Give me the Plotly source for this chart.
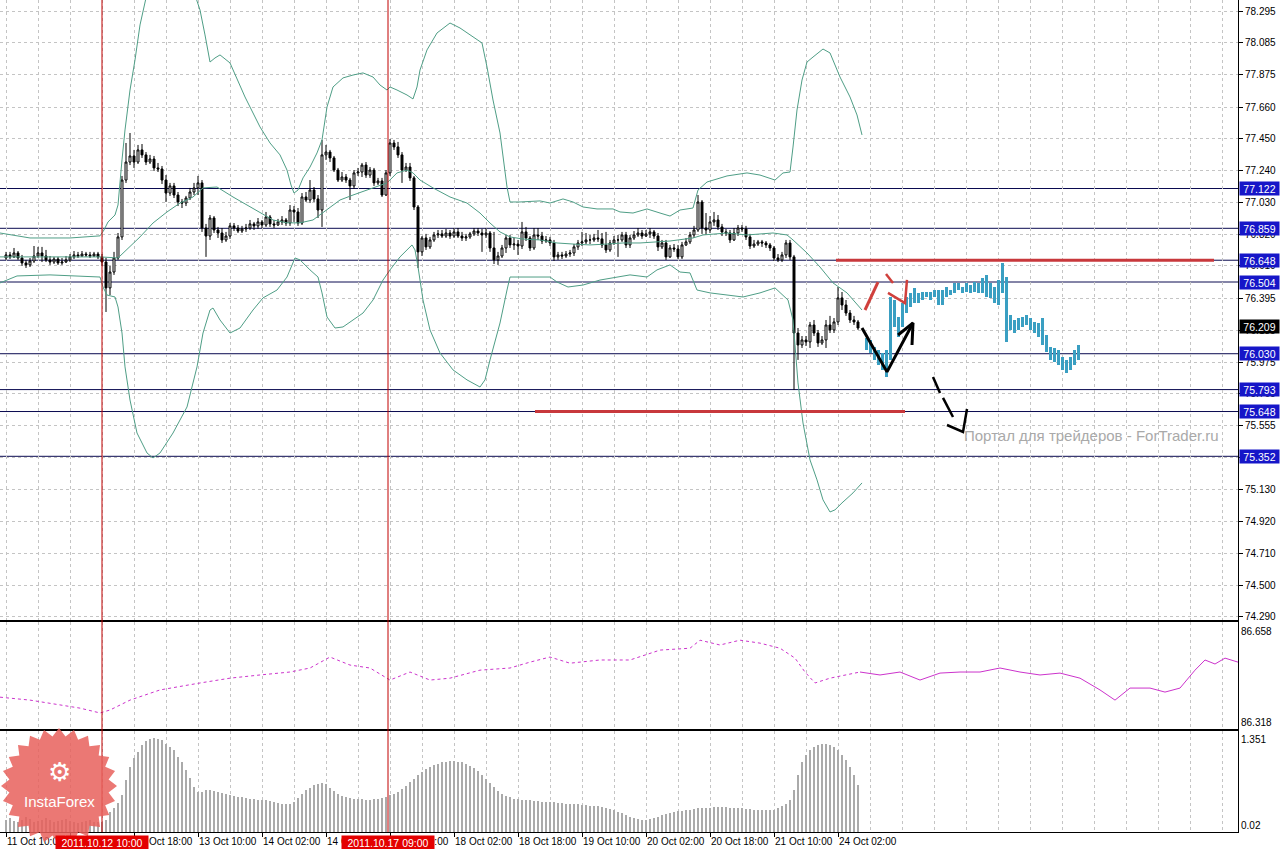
import math
import plotly.graph_objects as go
from plotly.subplots import make_subplots

# ---------------- time axis (H1 bars, index 0 = 11 Oct 10:00) ----------------
time_labels = ["11 Oct 10:00", "12 Oct 02:00", "12 Oct 18:00", "13 Oct 10:00", "14 Oct 02:00",
               "14 Oct 18:00", "17 Oct 10:00", "18 Oct 02:00", "18 Oct 18:00", "19 Oct 10:00",
               "20 Oct 02:00", "20 Oct 18:00", "21 Oct 10:00", "24 Oct 02:00"]
label_bars = [0, 16, 32, 48, 64, 80, 96, 112, 128, 144, 160, 176, 192, 208]

price_ticks = [78.295, 78.085, 77.875, 77.660, 77.450, 77.240, 77.030, 76.820, 76.610, 76.395,
               76.185, 75.975, 75.765, 75.555, 75.345, 75.130, 74.920, 74.710, 74.500, 74.290]

# ---------------- USDJPY-like H1 candles ----------------
first_open = 76.663
closes = [
    76.683, 76.670, 76.696, 76.663, 76.630, 76.617, 76.643, 76.676, 76.696, 76.676, 76.650, 76.636,
    76.656, 76.630, 76.636, 76.650, 76.670, 76.683, 76.676, 76.689, 76.683, 76.676, 76.689, 76.670,
    76.636, 76.465, 76.570, 76.663, 76.802, 77.178, 77.297, 77.337, 77.297, 77.377, 77.344, 77.297,
    77.317, 77.258, 77.251, 77.178, 77.092, 77.139, 77.079, 77.033, 77.026, 77.059, 77.099, 77.126, 77.159,
    76.861, 76.808, 76.927, 76.848, 76.828, 76.782, 76.808, 76.875, 76.861, 76.841, 76.855, 76.861,
    76.888, 76.875, 76.901, 76.881, 76.934, 76.888, 76.881, 76.901, 76.914, 76.894, 76.980, 76.967,
    76.894, 77.066, 77.046, 77.112, 77.053, 76.980,
    77.344, 77.363, 77.324, 77.244, 77.178, 77.198, 77.178, 77.139, 77.225, 77.231, 77.277, 77.211,
    77.244, 77.159, 77.172, 77.079, 77.225, 77.423, 77.397, 77.344, 77.244, 77.264, 77.192, 77.000,
    76.703, 76.795, 76.736, 76.782, 76.815, 76.822, 76.808,
    76.828, 76.808, 76.835, 76.808, 76.795, 76.802, 76.822, 76.841, 76.828, 76.815, 76.828, 76.729,
    76.650, 76.676, 76.729, 76.795, 76.749, 76.755, 76.742, 76.835, 76.795, 76.729, 76.815, 76.808,
    76.775, 76.782, 76.762, 76.670, 76.683, 76.676, 76.689, 76.696,
    76.736, 76.762, 76.769, 76.782, 76.782, 76.795, 76.789, 76.749, 76.716, 76.762, 76.782, 76.782,
    76.815, 76.749, 76.795, 76.815, 76.828, 76.808, 76.822, 76.835, 76.808, 76.736, 76.762, 76.670,
    76.729, 76.722, 76.670, 76.749, 76.769, 76.815, 76.848, 77.033, 76.861, 76.848, 76.901, 76.914,
    76.868, 76.835, 76.828, 76.782, 76.828, 76.861, 76.855, 76.802, 76.742, 76.755, 76.769, 76.762,
    76.749, 76.729, 76.663, 76.650, 76.683, 76.762, 76.670,
    76.167, 76.088, 76.121, 76.108, 76.220, 76.167, 76.101, 76.121, 76.220, 76.187, 76.240, 76.399,
    76.352, 76.299, 76.253, 76.240, 76.200]
highs = [
    76.703, 76.703, 76.729, 76.709, 76.683, 76.650, 76.663, 76.742, 76.736, 76.736, 76.716, 76.676,
    76.670, 76.670, 76.663, 76.676, 76.689, 76.709, 76.703, 76.709, 76.703, 76.703, 76.703, 76.703,
    76.689, 76.663, 76.610, 76.703, 76.828, 77.205, 77.423, 77.489, 77.377, 77.410, 77.416, 77.363,
    77.344, 77.337, 77.291, 77.271, 77.211, 77.159, 77.159, 77.099, 77.053, 77.073, 77.126, 77.159, 77.205,
    77.178, 76.888, 76.947, 76.940, 76.868, 76.861, 76.835, 76.894, 76.894, 76.881, 76.875, 76.888,
    76.914, 76.901, 76.927, 76.914, 76.967, 76.947, 76.914, 76.921, 76.940, 76.927, 77.013, 77.006,
    76.993, 77.092, 77.099, 77.178, 77.132, 77.079,
    77.443, 77.410, 77.377, 77.337, 77.258, 77.231, 77.218, 77.192, 77.244, 77.258, 77.291, 77.297,
    77.264, 77.258, 77.192, 77.192, 77.244, 77.449, 77.443, 77.430, 77.363, 77.291, 77.291, 77.205,
    77.013, 76.808, 76.822, 76.802, 76.835, 76.848, 76.848,
    76.855, 76.848, 76.861, 76.861, 76.835, 76.822, 76.835, 76.861, 76.861, 76.855, 76.861, 76.841,
    76.835, 76.703, 76.749, 76.815, 76.815, 76.795, 76.782, 76.901, 76.868, 76.808, 76.861, 76.861,
    76.835, 76.808, 76.802, 76.782, 76.703, 76.703, 76.709, 76.716,
    76.755, 76.782, 76.835, 76.828, 76.815, 76.822, 76.848, 76.828, 76.835, 76.782, 76.808, 76.815,
    76.835, 76.835, 76.815, 76.841, 76.861, 76.848, 76.848, 76.861, 76.848, 76.828, 76.782, 76.782,
    76.749, 76.755, 76.749, 76.769, 76.795, 76.835, 76.875, 77.079, 77.046, 76.960, 76.940, 76.967,
    76.947, 76.888, 76.855, 76.848, 76.861, 76.881, 76.881, 76.875, 76.822, 76.782, 76.782, 76.782,
    76.775, 76.762, 76.742, 76.689, 76.703, 76.782, 76.782,
    76.683, 76.200, 76.147, 76.147, 76.240, 76.253, 76.187, 76.147, 76.253, 76.280, 76.266, 76.471,
    76.438, 76.385, 76.319, 76.280, 76.253]
lows = [
    76.650, 76.656, 76.663, 76.650, 76.610, 76.597, 76.603, 76.630, 76.663, 76.636, 76.636, 76.617,
    76.623, 76.617, 76.617, 76.630, 76.636, 76.656, 76.663, 76.670, 76.670, 76.663, 76.670, 76.656,
    76.610, 76.306, 76.418, 76.551, 76.650, 76.782, 77.159, 77.277, 77.258, 77.284, 77.324, 77.277,
    77.284, 77.238, 77.231, 77.152, 77.033, 77.073, 77.059, 77.006, 76.993, 77.006, 77.046, 77.079, 77.079,
    76.835, 76.670, 76.782, 76.828, 76.795, 76.762, 76.769, 76.789, 76.841, 76.828, 76.828, 76.835,
    76.848, 76.848, 76.855, 76.861, 76.868, 76.868, 76.861, 76.875, 76.881, 76.875, 76.875, 76.901,
    76.875, 76.881, 77.033, 77.026, 77.033, 76.927,
    76.868, 77.311, 77.297, 77.231, 77.165, 77.165, 77.159, 77.046, 77.119, 77.205, 77.198, 77.192,
    77.192, 77.139, 77.145, 77.066, 77.073, 77.205, 77.377, 77.324, 77.159, 77.231, 77.172, 76.980,
    76.597, 76.676, 76.716, 76.722, 76.769, 76.795, 76.795,
    76.795, 76.789, 76.795, 76.795, 76.775, 76.775, 76.789, 76.808, 76.808, 76.703, 76.795, 76.703,
    76.623, 76.617, 76.663, 76.696, 76.729, 76.716, 76.683, 76.722, 76.775, 76.709, 76.716, 76.782,
    76.755, 76.762, 76.742, 76.643, 76.650, 76.656, 76.663, 76.670,
    76.676, 76.716, 76.742, 76.755, 76.755, 76.769, 76.769, 76.729, 76.696, 76.703, 76.749, 76.670,
    76.769, 76.729, 76.729, 76.782, 76.802, 76.789, 76.802, 76.795, 76.789, 76.709, 76.722, 76.650,
    76.663, 76.703, 76.656, 76.656, 76.742, 76.755, 76.795, 76.835, 76.822, 76.815, 76.828, 76.875,
    76.848, 76.808, 76.808, 76.762, 76.775, 76.808, 76.835, 76.782, 76.722, 76.729, 76.742, 76.736,
    76.729, 76.709, 76.643, 76.636, 76.636, 76.663, 76.650,
    75.791, 75.989, 76.068, 76.081, 76.068, 76.147, 76.075, 76.088, 76.068, 76.167, 76.167, 76.220,
    76.319, 76.280, 76.233, 76.220, 76.187]
bars = list(range(len(closes)))
opens = [first_open] + closes[:-1]

# ---------------- Bollinger bands ----------------
bb_up_x = [-1.5, 6, 16, 23.5, 24.5, 25.5, 27.25, 28, 29, 29.75, 31, 32.25, 33.5, 34.75, 36, 38.5,
           42.25, 46, 47.75, 48.5, 49.75, 51, 52.25, 53.5, 56, 59.75, 63.5, 66, 68.5, 70.25, 71.25,
           72, 73, 74.25, 76, 77.75, 79, 80.25, 81.75, 84.25, 86.75, 89.25, 91.75, 93.5, 95.25, 96,
           97.75, 100.25, 101.75, 102.75, 103.5, 105.25, 107.75, 111, 113.5, 116.75, 119, 120.25,
           121.75, 123.5, 125.25, 126, 128.5, 133.5, 136, 139.25, 141.75, 144.25, 147.75, 151.75,
           153.5, 156.75, 160.25, 163.5, 166, 168.5, 171.75, 173, 175.25, 180.25, 185.25, 188.5,
           192.25, 194.25, 196, 196.75, 197.75, 199, 200.25, 201.75, 204.25, 206, 208.5, 211, 212.75, 214]
bb_up = [76.828, 76.795, 76.795, 76.809, 76.848, 76.901, 76.947, 77.013, 77.311, 77.509, 77.773,
         77.972, 78.203, 78.348, 78.500, 78.665, 78.665, 78.500, 78.368, 78.302, 78.137, 77.958,
         77.985, 78.005, 77.952, 77.727, 77.529, 77.423, 77.344, 77.244, 77.145, 77.092, 77.112,
         77.192, 77.264, 77.357, 77.443, 77.661, 77.793, 77.853, 77.872, 77.886, 77.859, 77.806,
         77.773, 77.793, 77.773, 77.740, 77.714, 77.793, 77.905, 78.038, 78.150, 78.216, 78.183,
         78.123, 78.084, 77.925, 77.707, 77.489, 77.132, 77.033, 77.033, 77.040, 77.026, 77.053,
         77.033, 77.000, 76.987, 76.987, 76.967, 76.960, 76.987, 76.960, 76.940, 76.980, 76.993,
         77.112, 77.165, 77.205, 77.225, 77.211, 77.178, 77.225, 77.231, 77.396, 77.641, 77.839,
         77.958, 77.991, 78.044, 78.018, 77.859, 77.727, 77.608, 77.476]
bb_mid_x = [-1.5, 15.25, 23.5, 28, 31, 33.5, 36.75, 40.25, 43.5, 46.75, 49.25, 52.75, 56.75, 60.25,
            63.5, 66.75, 70.25, 73.5, 76.75, 78.5, 81, 83.5, 86.75, 90.25, 92.75, 95.25, 97.75,
            100.25, 101.75, 103.5, 106.75, 111, 115.25, 118.5, 121, 123.5, 126, 129.25, 133.5,
            137.75, 141.75, 146, 150.25, 154.25, 158.5, 161.75, 166, 171.75, 174.25, 180.25,
            185.25, 191.75, 195.25, 196.75, 200.25, 203.5, 206.75, 210.25, 214]
bb_mid = [76.670, 76.670, 76.670, 76.663, 76.736, 76.802, 76.894, 76.967, 77.026, 77.066, 77.126,
          77.132, 77.066, 77.013, 76.960, 76.914, 76.895, 76.895, 76.914, 76.947, 77.000, 77.046,
          77.079, 77.112, 77.132, 77.159, 77.225, 77.244, 77.225, 77.178, 77.126, 77.066, 77.026,
          76.960, 76.894, 76.835, 76.802, 76.788, 76.782, 76.762, 76.755, 76.749, 76.755, 76.762,
          76.762, 76.769, 76.775, 76.795, 76.815, 76.828, 76.815, 76.828, 76.815, 76.782, 76.696,
          76.603, 76.498, 76.432, 76.319]
bb_lo_x = [-1.5, 2.75, 11, 19.25, 23.5, 24.25, 25.25, 27.25, 28, 29, 29.75, 31, 32.75, 35.25, 36.75,
           38.5, 41.75, 45.25, 47.75, 49.25, 51, 51.75, 53.5, 56, 58.5, 61.75, 64.25, 67.75, 70.25,
           72.25, 73.5, 76, 78, 79, 80.25, 82.25, 84.25, 86.75, 89.25, 91.75, 94.25, 96, 98.5, 101.5,
           102.25, 103, 104.25, 106, 108.5, 111.75, 115.25, 118.5, 119.75, 121, 123.5, 125.25, 126,
           132.75, 136, 137.75, 140.5, 144.25, 148.5, 156, 160.25, 162.75, 166, 168.5, 171, 172.75,
           176, 184.25, 188.5, 192.25, 195.5, 196.75, 198, 199.25, 201, 202.75, 204.25, 206, 207.25,
           209, 211.75, 214]
bb_lo = [76.498, 76.544, 76.551, 76.544, 76.537, 76.471, 76.418, 76.405, 76.339, 76.167, 75.943,
         75.724, 75.506, 75.374, 75.341, 75.374, 75.506, 75.678, 75.943, 76.167, 76.319, 76.332,
         76.253, 76.167, 76.200, 76.319, 76.399, 76.451, 76.537, 76.663, 76.650, 76.584, 76.537,
         76.432, 76.273, 76.200, 76.207, 76.253, 76.299, 76.385, 76.517, 76.584, 76.670, 76.749,
         76.716, 76.604, 76.385, 76.187, 76.035, 75.923, 75.857, 75.810, 75.857, 75.989, 76.233,
         76.451, 76.537, 76.537, 76.537, 76.504, 76.471, 76.484, 76.517, 76.551, 76.537, 76.584,
         76.617, 76.570, 76.564, 76.451, 76.432, 76.405, 76.432, 76.465, 76.385, 76.253, 75.837,
         75.572, 75.328, 75.196, 75.064, 74.984, 74.998, 75.044, 75.110, 75.176]

# ---------------- hand-drawn forecast bars (cyan) ----------------
fc_bars = list(range(215, 269))
fc_high = [76.134, 76.121, 76.075, 76.055, 76.035, 76.055, 76.405, 76.385, 76.273, 76.365, 76.405,
           76.432, 76.465, 76.432, 76.438, 76.438, 76.438, 76.451, 76.451, 76.451, 76.471, 76.451,
           76.498, 76.498, 76.471, 76.498, 76.484, 76.504, 76.498, 76.531, 76.551, 76.498, 76.471,
           76.518, 76.630, 76.537, 76.286, 76.253, 76.266, 76.273, 76.286, 76.266, 76.240, 76.233,
           76.266, 76.154, 76.075, 76.068, 76.055, 76.009, 75.989, 76.009, 76.055, 76.088]
fc_low = [76.055, 76.035, 75.989, 75.956, 75.923, 75.876, 75.989, 76.207, 76.141, 76.207, 76.299,
          76.339, 76.365, 76.365, 76.385, 76.405, 76.385, 76.405, 76.352, 76.352, 76.405, 76.418,
          76.432, 76.451, 76.432, 76.438, 76.432, 76.438, 76.432, 76.432, 76.405, 76.399, 76.365,
          76.352, 76.432, 76.108, 76.187, 76.167, 76.187, 76.207, 76.220, 76.187, 76.167, 76.141,
          76.088, 76.042, 75.989, 75.976, 75.956, 75.923, 75.903, 75.923, 75.956, 75.989]

# ---------------- levels ----------------
level_prices = [77.122, 76.859, 76.648, 76.504, 76.030, 75.793, 75.648, 75.352]
current_price = 76.209
red_level_1 = dict(x=[207.5, 302.0], y=[76.648, 76.648])
red_level_2 = dict(x=[132.25, 224.75], y=[75.648, 75.648])
vline_bars = [24, 95.5]
vline_labels = ["2011.10.12 10:00", "2011.10.17 09:00"]

# hand-drawn arrows (bar index, price)
black_path_x = [214, 220.25, 226.75]
black_path_y = [76.200, 75.910, 76.233]
black_head_x = [223, 226.75, 226.5]
black_head_y = [76.154, 76.233, 76.088]
red_stroke_x = [214.75, 218]
red_stroke_y = [76.319, 76.504]
red_arrow_x = [220, 221.75, None, 220.5, 224.75, 225.25]
red_arrow_y = [76.557, 76.498, None, 76.432, 76.365, 76.518]
dash_arrow_x = [231.75, 233.5, None, 234.25, 236.75, None, 235.25, 239.25, 240.25]
dash_arrow_y = [75.876, 75.771, None, 75.738, 75.612, None, 75.559, 75.513, 75.665]

# ---------------- indicator window 1 (magenta) ----------------
ind_dot_x = [-1.5, 6, 13.5, 18.5, 23.5, 26, 31, 38.5, 48.5, 56, 63.5, 71, 76, 81, 86, 91, 96, 101,
             106, 111, 118.5, 126, 131, 136, 141, 148.5, 156, 163.5, 171, 173.5, 178.5, 183.5,
             188.5, 193.5, 197.25, 199.75, 202.25, 206, 213.5]
ind_dot = [86.411, 86.400, 86.382, 86.370, 86.352, 86.363, 86.400, 86.438, 86.464, 86.482, 86.494,
           86.505, 86.520, 86.561, 86.531, 86.520, 86.475, 86.505, 86.475, 86.482, 86.512, 86.520,
           86.542, 86.561, 86.538, 86.550, 86.550, 86.587, 86.594, 86.624, 86.606, 86.624, 86.613,
           86.594, 86.557, 86.505, 86.464, 86.482, 86.505]
ind_sol_x = [213.5, 218.5, 223.5, 228.5, 233.5, 238.5, 243.5, 248.5, 253.5, 258.5, 263.5, 268.5,
             273.5, 277.25, 281, 286, 289.75, 293.5, 297.25, 299.75, 302.25, 304.75, 308]
ind_sol = [86.505, 86.494, 86.505, 86.475, 86.501, 86.505, 86.505, 86.520, 86.505, 86.494, 86.501,
           86.482, 86.438, 86.400, 86.445, 86.445, 86.430, 86.445, 86.512, 86.550, 86.535, 86.557,
           86.542]

# ---------------- indicator window 2 (histogram) ----------------
hist_vals = [
    0.10, 0.13, 0.08, 0.07, 0.10, 0.14, 0.11, 0.07, 0.08, 0.10, 0.13, 0.10, 0.07, 0.08, 0.10, 0.11,
    0.08, 0.07, 0.05, 0.07, 0.08, 0.10, 0.07, 0.07,
    0.07, 0.10, 0.22, 0.28, 0.36, 0.48, 0.72, 0.92, 1.06, 1.15, 1.26, 1.32, 1.35, 1.37, 1.35, 1.34,
    1.27, 1.23, 1.18, 1.07, 1.00, 0.87, 0.75, 0.61, 0.53,
    0.53, 0.56, 0.56, 0.55, 0.53, 0.52, 0.50, 0.48, 0.47, 0.46, 0.45, 0.44, 0.43, 0.42, 0.41, 0.41, 0.40,
    0.39, 0.38, 0.36, 0.35, 0.34, 0.35, 0.38,
    0.44, 0.50, 0.56, 0.60, 0.64, 0.66, 0.67, 0.65, 0.60, 0.54,
    0.50, 0.47, 0.45, 0.44, 0.43, 0.42, 0.42, 0.41, 0.41, 0.42, 0.43, 0.44, 0.46,
    0.48, 0.50, 0.53, 0.57, 0.62, 0.68, 0.74, 0.79,
    0.84, 0.88, 0.92, 0.95, 0.97, 0.99, 1.00, 1.01, 1.01, 1.00, 0.99, 0.97,
    0.94, 0.90, 0.85, 0.79, 0.73, 0.67, 0.61, 0.55, 0.50,
    0.47, 0.45, 0.43, 0.42, 0.41, 0.40, 0.40, 0.39, 0.39, 0.38, 0.38, 0.37, 0.37, 0.36, 0.36, 0.35,
    0.35, 0.34, 0.34, 0.33, 0.33, 0.32, 0.32, 0.31, 0.30, 0.29,
    0.27, 0.25, 0.22, 0.20, 0.17, 0.15, 0.13, 0.11, 0.10, 0.10, 0.11, 0.13, 0.15, 0.17, 0.19,
    0.21, 0.22, 0.23, 0.24, 0.25, 0.26, 0.27, 0.28, 0.28, 0.29, 0.29, 0.30, 0.30, 0.30, 0.30, 0.29,
    0.29, 0.28, 0.28, 0.27, 0.27, 0.26, 0.26, 0.25, 0.25, 0.25, 0.26, 0.28, 0.31, 0.35,
    0.41, 0.56, 0.79, 0.99, 1.10, 1.18, 1.23, 1.26, 1.27, 1.27, 1.26, 1.23, 1.18, 1.10, 1.03, 0.92,
    0.79, 0.64]
HIST_FLOOR = -0.088

# ---------------- styling constants ----------------
W, H = 1280, 849
ML, MR, MT, MB = 0, 42, 0, 17
PW, PH = W - ML - MR, H - MT - MB
GRID = "#c4c4c4"
NAVY = "#0a0a50"
BB_COLOR = "#4f9e86"
RED_LINE = "#c8383c"
FONT = "Liberation Sans"

fig = make_subplots(rows=3, cols=1, shared_xaxes=True, vertical_spacing=0)

fig.add_trace(go.Candlestick(
    x=bars, open=opens, high=highs, low=lows, close=closes,
    increasing=dict(line=dict(color="black", width=1), fillcolor="white"),
    decreasing=dict(line=dict(color="black", width=1), fillcolor="black"),
    whiskerwidth=0, hoverinfo="skip", showlegend=False), row=1, col=1)

for bx, by in [(bb_up_x, bb_up), (bb_mid_x, bb_mid), (bb_lo_x, bb_lo)]:
    fig.add_trace(go.Scatter(x=bx, y=by, mode="lines", line=dict(color=BB_COLOR, width=1),
                             hoverinfo="skip", showlegend=False), row=1, col=1)

fig.add_trace(go.Bar(x=fc_bars, y=[h - l for h, l in zip(fc_high, fc_low)], base=fc_low,
                     width=0.75, marker=dict(color="#3a9fc2", line=dict(width=0)),
                     hoverinfo="skip", showlegend=False), row=1, col=1)

for lv in (red_level_1, red_level_2):
    fig.add_trace(go.Scatter(x=lv["x"], y=lv["y"], mode="lines", line=dict(color=RED_LINE, width=3),
                             hoverinfo="skip", showlegend=False), row=1, col=1)

fig.add_trace(go.Scatter(x=black_path_x, y=black_path_y, mode="lines", line=dict(color="black", width=3),
                         hoverinfo="skip", showlegend=False), row=1, col=1)
fig.add_trace(go.Scatter(x=black_head_x, y=black_head_y, mode="lines", line=dict(color="black", width=3),
                         hoverinfo="skip", showlegend=False), row=1, col=1)
fig.add_trace(go.Scatter(x=red_stroke_x, y=red_stroke_y, mode="lines", line=dict(color="#d0403c", width=3),
                         hoverinfo="skip", showlegend=False), row=1, col=1)
fig.add_trace(go.Scatter(x=red_arrow_x, y=red_arrow_y, mode="lines", line=dict(color="#d0403c", width=2.5),
                         hoverinfo="skip", showlegend=False, connectgaps=False), row=1, col=1)
fig.add_trace(go.Scatter(x=dash_arrow_x, y=dash_arrow_y, mode="lines", line=dict(color="black", width=2.5),
                         hoverinfo="skip", showlegend=False, connectgaps=False), row=1, col=1)

fig.add_trace(go.Scatter(x=ind_dot_x, y=ind_dot, mode="lines", line=dict(color="#cc33cc", width=1, dash="dot"),
                         hoverinfo="skip", showlegend=False), row=2, col=1)
fig.add_trace(go.Scatter(x=ind_sol_x, y=ind_sol, mode="lines", line=dict(color="#cc33cc", width=1),
                         hoverinfo="skip", showlegend=False), row=2, col=1)

fig.add_trace(go.Bar(x=bars, y=[v - HIST_FLOOR for v in hist_vals], base=HIST_FLOOR, width=0.25,
                     marker=dict(color="#aaaaaa", line=dict(width=0)),
                     hoverinfo="skip", showlegend=False), row=3, col=1)

# ---------------- axes ----------------
xcommon = dict(range=[-1.5, 308], showgrid=True, gridcolor=GRID, griddash="3px,3px", gridwidth=1,
               zeroline=False, showline=True, linecolor="black", linewidth=1, mirror=True,
               tickvals=label_bars, ticktext=time_labels, automargin=False, tickangle=0,
               minor=dict(dtick=8, tick0=0, showgrid=True, gridcolor=GRID, griddash="3px,3px", gridwidth=1),
               rangeslider=dict(visible=False))
fig.update_xaxes(**xcommon)
fig.update_xaxes(showticklabels=False, ticks="", row=1, col=1)
fig.update_xaxes(showticklabels=False, ticks="", row=2, col=1)
fig.update_xaxes(showticklabels=True, ticks="outside", ticklen=4, tickcolor="black",
                 ticklabelposition="outside right",
                 tickfont=dict(family=FONT, size=10, color="black"), row=3, col=1)

ycommon = dict(side="right", showline=True, linecolor="black", linewidth=1, mirror=True,
               zeroline=False, automargin=False, tickfont=dict(family=FONT, size=10, color="black"))
fig.update_yaxes(**ycommon)
fig.update_yaxes(range=[74.270, 78.368], tickvals=price_ticks, ticktext=[f"{p:.3f}" for p in price_ticks],
                 ticks="outside", ticklen=4, tickcolor="black",
                 showgrid=True, gridcolor=GRID, griddash="3px,3px", row=1, col=1)
fig.update_yaxes(range=[86.292, 86.692], tickvals=[86.318, 86.658], ticktext=["86.318", "86.658"],
                 ticks="", showgrid=False, row=2, col=1)
fig.update_yaxes(range=[HIST_FLOOR, 1.475], tickvals=[0.02, 1.351], ticktext=["0.02", "1.351"],
                 ticks="", showgrid=False, row=3, col=1)

fig.update_layout(
    yaxis=dict(domain=[(PH - 620) / PH, 1.0]),
    yaxis2=dict(domain=[(PH - 729) / PH, (PH - 622) / PH]),
    yaxis3=dict(domain=[0.0, (PH - 731) / PH]),
)

# ---------------- shapes: level lines, vertical markers ----------------
shapes = []
for lp in level_prices:
    shapes.append(dict(type="line", xref="paper", yref="y", x0=0, x1=1, y0=lp, y1=lp,
                       line=dict(color=NAVY, width=1), layer="between"))
for vb in vline_bars:
    shapes.append(dict(type="line", xref="x", yref="paper", x0=vb, x1=vb, y0=0, y1=1,
                       line=dict(color="#c00000", width=1), layer="above"))

# InstaForex badge (decorative starburst)
cxp, cyp, R1, R2 = 59, 786, 58, 50
pts = []
for k in range(48):
    ang = 2 * math.pi * k / 48
    r = R1 if k % 2 == 0 else R2
    px = cxp + r * math.cos(ang)
    py = cyp - r * math.sin(ang)
    pts.append(((px - ML) / PW, (PH - (py - MT)) / PH))
path = "M " + " L ".join(f"{a:.5f},{b:.5f}" for a, b in pts) + " Z"
shapes.append(dict(type="path", path=path, xref="paper", yref="paper", fillcolor="#e8605c",
                   opacity=0.85, line=dict(width=0), layer="above"))
fig.update_layout(shapes=shapes)

# ---------------- annotations ----------------
ann = []
for lp in level_prices:
    ann.append(dict(x=1, xref="paper", xanchor="left", xshift=1, y=lp, yref="y", yanchor="middle",
                    text=f"{lp:.3f}", showarrow=False, bgcolor="#1616c8", width=39, height=13,
                    borderpad=0, font=dict(family=FONT, size=10.5, color="white")))
ann.append(dict(x=1, xref="paper", xanchor="left", xshift=1, y=current_price, yref="y", yanchor="middle",
                text=f"{current_price:.3f}", showarrow=False, bgcolor="black", width=39, height=13,
                borderpad=0, font=dict(family=FONT, size=10.5, color="white")))
for vb, lab in zip(vline_bars, vline_labels):
    ann.append(dict(x=vb, xref="x3", xanchor="center", y=0, yref="paper", yanchor="top", yshift=-3,
                    text=lab, showarrow=False, bgcolor="#e40000", width=92, height=14, borderpad=0,
                    font=dict(family=FONT, size=10.5, color="white")))
ann.append(dict(x=(962 - ML) / PW, xref="paper", xanchor="left", y=(PH - 435) / PH, yref="paper",
                yanchor="middle", text="Портал для трейдеров - ForTrader.ru", showarrow=False,
                font=dict(family=FONT, size=15, color="#a9a9a9")))
ann.append(dict(x=cxp / PW, xref="paper", xanchor="center", y=(PH - 772) / PH, yref="paper",
                yanchor="middle", text="⚙", showarrow=False,
                font=dict(family="DejaVu Sans", size=26, color="white")))
ann.append(dict(x=cxp / PW, xref="paper", xanchor="center", y=(PH - 801) / PH, yref="paper",
                yanchor="middle", text="InstaForex", showarrow=False,
                font=dict(family=FONT, size=15, color="white")))
fig.update_layout(annotations=ann)

fig.update_layout(width=W, height=H, margin=dict(l=ML, r=MR, t=MT, b=MB, autoexpand=False),
                  plot_bgcolor="white", paper_bgcolor="white", showlegend=False,
                  barmode="overlay", bargap=0, hovermode=False,
                  font=dict(family=FONT, size=10, color="black"))

fig.write_html("out.html", config={"displayModeBar": False},
               post_script="document.body.style.margin='0';document.body.style.padding='0';"
                           "document.documentElement.style.overflow='hidden';")
